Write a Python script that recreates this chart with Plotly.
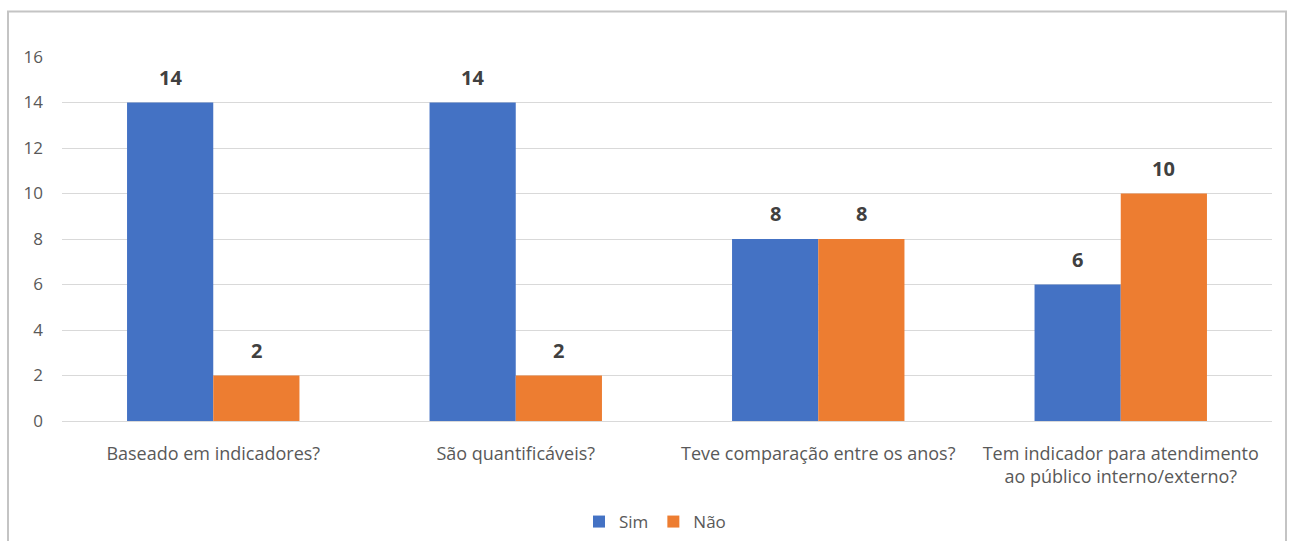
import plotly.graph_objects as go

# Survey questions (x categories) and answer counts per series
categories = [
    "Baseado em indicadores?",
    "São quantificáveis?",
    "Teve comparação entre os anos?",
    "Tem indicador para atendimento<br>ao público interno/externo?",
]
sim_values = [14, 14, 8, 6]
nao_values = [2, 2, 8, 10]
y_ticks = [0, 2, 4, 6, 8, 10, 12, 14, 16]

BLUE = "#4472C4"
ORANGE = "#ED7D31"
TEXT_GREY = "#595959"
LABEL_GREY = "#404040"
FONT = "Open Sans, Liberation Sans, sans-serif"

series = [("Sim", sim_values, BLUE), ("Não", nao_values, ORANGE)]

fig = go.Figure()
for name, vals, color in series:
    fig.add_trace(go.Bar(
        name=name,
        x=categories,
        y=vals,
        offsetgroup=name,
        marker=dict(color=color, line=dict(width=0)),
    ))

# plot area spans x 62..1272 px, y 57..421 px
L, R, T, B = 62, 18, 57, 120
W, H = 1290, 541
pw, ph = W - L - R, H - T - B

def px_to_paper_x(px):
    return (px - L) / pw

def px_to_paper_y(py):
    return (H - B - py) / ph

# value labels above each bar; bars in a group are offset by a quarter
# of the category slot (group width 0.57 split into two bars)
bar_w = (1 - 0.43) / 2
annotations = []
for i, (name, vals, color) in enumerate(series):
    offset = (i - 0.5) * bar_w
    for ci, v in enumerate(vals):
        annotations.append(dict(
            x=ci + offset,
            y=v,
            xref="x",
            yref="y",
            text=f"<b>{v}</b>",
            showarrow=False,
            yanchor="bottom",
            yshift=10,
            font=dict(family=FONT, size=20, color=LABEL_GREY),
        ))

fig.update_layout(
    width=W,
    height=H,
    margin=dict(l=L, r=R, t=T, b=B, autoexpand=False),
    paper_bgcolor="white",
    plot_bgcolor="white",
    barmode="group",
    bargap=0.43,
    bargroupgap=0,
    font=dict(family=FONT, size=16, color=TEXT_GREY),
    showlegend=True,
    legend=dict(
        orientation="h",
        x=px_to_paper_x(655),
        xanchor="center",
        y=px_to_paper_y(522),
        yanchor="middle",
        font=dict(family=FONT, size=17, color=TEXT_GREY),
        itemwidth=30,
        traceorder="normal",
    ),
    xaxis=dict(
        automargin=False,
        showgrid=False,
        showline=False,
        zeroline=False,
        ticks="outside",
        ticklen=16,
        tickcolor="rgba(0,0,0,0)",
        tickfont=dict(family=FONT, size=18, color=TEXT_GREY),
    ),
    yaxis=dict(
        automargin=False,
        range=[0, 16],
        tickvals=y_ticks,
        showgrid=True,
        gridcolor="#D9D9D9",
        gridwidth=1,
        zeroline=True,
        zerolinecolor="#D9D9D9",
        zerolinewidth=1,
        showline=False,
        ticks="",
        ticklabelstandoff=18,
        tickfont=dict(family=FONT, size=17, color=TEXT_GREY),
    ),
    annotations=annotations,
    shapes=[
        dict(
            type="rect",
            xref="paper", yref="paper",
            x0=px_to_paper_x(8), x1=px_to_paper_x(1286),
            y0=px_to_paper_y(560), y1=px_to_paper_y(11.5),
            line=dict(color="#C4C4C4", width=2),
            fillcolor="rgba(0,0,0,0)",
            layer="below",
        )
    ],
)

fig.write_html("out.html")
